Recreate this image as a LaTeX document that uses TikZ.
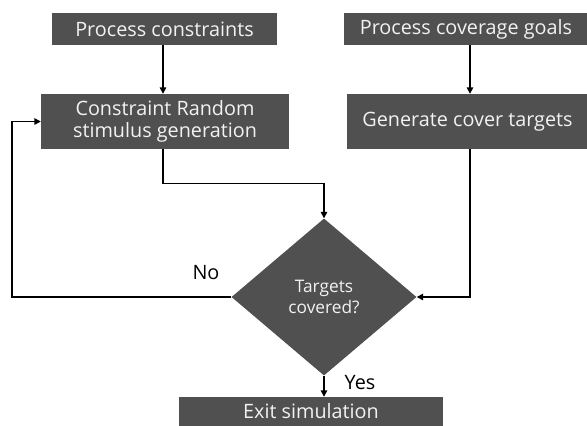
\documentclass[tikz,border=0pt]{standalone}
\usepackage{fontspec}
\setmainfont{Open Sans}
\usetikzlibrary{shapes.geometric,arrows.meta,calc}
\definecolor{boxgray}{HTML}{505050}
\definecolor{boxtext}{HTML}{F2F2F2}
\begin{document}
\begin{tikzpicture}[x=1pt,y=-1pt,
  stepbox/.style={rectangle,fill=boxgray,text=boxtext,inner sep=0pt,align=center,
    font=\fontsize{19.8}{22}\selectfont},
  decision/.style={diamond,fill=boxgray,text=boxtext,inner sep=0pt,align=center,
    minimum width=185pt,minimum height=157pt,aspect=1.18,
    font=\fontsize{17.3}{21}\selectfont},
  conn/.style={draw=black,line width=1.4pt,-{Triangle[length=6.5pt,width=6.5pt]}},
  lbl/.style={text=black,inner sep=0pt,font=\fontsize{19.8}{22}\selectfont}]
\useasboundingbox (0,0) rectangle (587,426);

% process boxes
\node[stepbox,minimum width=225pt,minimum height=32pt] (pc)  at (164.5,29)   {Process constraints};
\node[stepbox,minimum width=248pt,minimum height=55pt] (cr)  at (165,121.5)  {Constraint Random\\stimulus generation};
\node[stepbox,minimum width=244pt,minimum height=32pt] (pcg) at (466,29)     {Process coverage goals};
\node[stepbox,minimum width=241pt,minimum height=55pt] (gct) at (467.5,121.5){Generate cover targets};
\node[stepbox,minimum width=264pt,minimum height=29pt] (exit) at (311,411.5) {Exit simulation};

% decision
\node[decision] (dec) at (324,297) {Targets\\covered?};

% labels
\node[lbl] (no)  at (206,273) {No};
\node[lbl] (yes) at (360,383) {Yes};

% connectors
\draw[conn] (pc.south -| 163,0) -- (cr.north -| 163,0);
\draw[conn] (pcg.south -| 470,0) -- (gct.north -| 470,0);
\draw[conn] (cr.south -| 163,0) -- ++(0,34) -| (dec.north);
\draw[conn] (gct.south -| 470,0) |- (dec.east);
\coordinate (back) at ($(cr.west)+(-29,0)$);
\draw[conn] (dec.west) -| (back) -- (cr.west);
\draw[conn] (dec.south) -- (dec.south |- exit.north);
\end{tikzpicture}
\end{document}
